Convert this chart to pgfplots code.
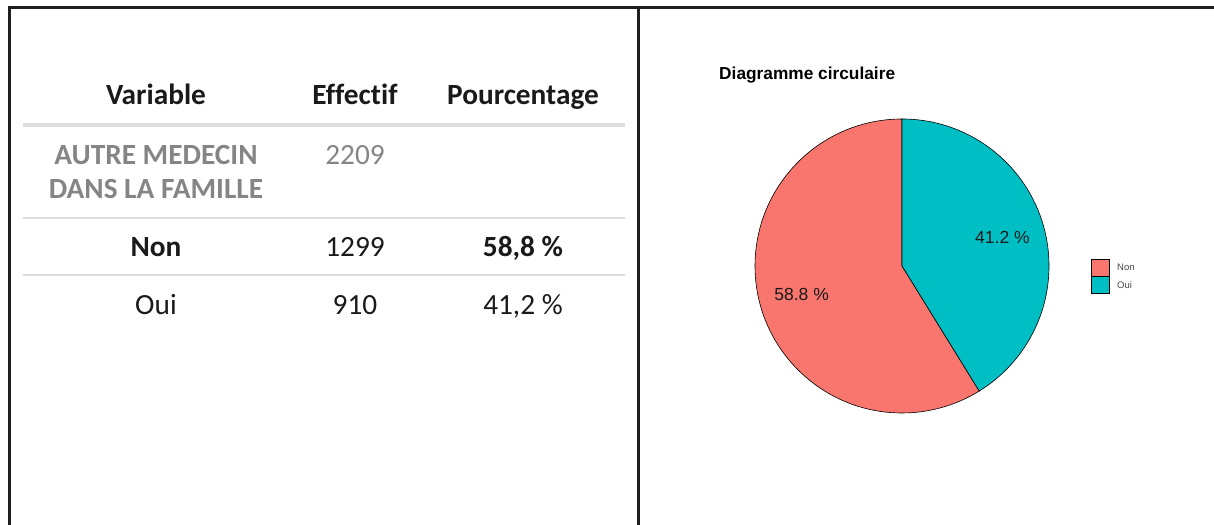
\documentclass[border=0pt]{standalone}
\usepackage{pgfplots}
\pgfplotsset{compat=1.18}
\usepackage{pgfplotstable}
\usepackage{fontspec}
\setmainfont{Carlito}[Ligatures={NoCommon,NoContextual}]
\newfontfamily\arialf{Liberation Sans}
\definecolor{noncol}{HTML}{F8766D}
\definecolor{ouicol}{HTML}{00BFC4}
\definecolor{txtgray}{HTML}{858585}
\definecolor{linegray}{HTML}{DDDDDD}
\definecolor{framecol}{HTML}{1F1F1F}
\definecolor{txt}{HTML}{1A1A1A}

\pgfplotstableread{
label count
Non 1299
Oui 910
}\piedata
\pgfplotstablegetelem{0}{count}\of\piedata\let\nNon\pgfplotsretval
\pgfplotstablegetelem{1}{count}\of\piedata\let\nOui\pgfplotsretval
\pgfmathsetmacro\fOui{\nOui/(\nNon+\nOui)}
\pgfmathsetmacro\aOui{360*\fOui}
\pgfmathsetmacro\eOui{90-\aOui}
\pgfmathsetmacro\eNon{\eOui+360}
\pgfmathsetmacro\mOui{90-\aOui/2}
\pgfmathsetmacro\mNon{90-\aOui-(360-\aOui)/2}
\newcommand\tf{\fontsize{29.3bp}{34bp}\selectfont}
\newcommand\pf{\arialf\fontsize{17.5bp}{20bp}\selectfont}

\begin{document}%
\begin{tikzpicture}[x=1bp,y=1bp]
\path[use as bounding box] (0,0) rectangle (1214,525);
% frame
\draw[framecol, line width=3bp] (9.2,0) -- (9.2,517.8) -- (1214,517.8);
\draw[framecol, line width=3bp] (638.5,0) -- (638.5,517.8);
% table lines
\draw[linegray, line width=4bp] (23,400.3) -- (625,400.3);
\draw[linegray, line width=2bp] (23,307.3) -- (625,307.3);
\draw[linegray, line width=1.3bp] (23,250) -- (625,250);
% header
\begin{scope}[every node/.style={anchor=base, inner sep=0pt, text=txt, font=\tf\bfseries}]
\node at (156,420) {Variable};
\node at (355,420) {Effectif};
\node at (523,420) {Pourcentage};
\end{scope}
\begin{scope}[every node/.style={anchor=base, inner sep=0pt, text=txtgray, font=\tf}]
\node[font=\tf\bfseries] at (156,360) {AUTRE MEDECIN};
\node[font=\tf\bfseries] at (156,326) {DANS LA FAMILLE};
\node at (355,360) {2209};
\end{scope}
\begin{scope}[every node/.style={anchor=base, inner sep=0pt, text=txt, font=\tf}]
\node[font=\tf\bfseries] at (156,268) {Non};
\node at (355,268) {1299};
\node[font=\tf\bfseries] at (523,268) {58,8 \%};
\node at (156,210) {Oui};
\node at (355,210) {910};
\node at (523,210) {41,2 \%};
\end{scope}
% title
\node[anchor=base west, inner sep=0pt, font=\arialf\fontsize{17.3bp}{20bp}\selectfont\bfseries] at (719,445) {Diagramme circulaire};
% pie
\begin{axis}[at={(902bp,259bp)}, anchor=center, scale only axis,
  width=294bp, height=294bp, xmin=-1, xmax=1, ymin=-1, ymax=1,
  hide axis, clip=false]
\fill[noncol, draw=black, line width=0.6bp] (axis cs:0,0) -- (axis cs:0,1) arc[start angle=90, end angle=\eNon, radius=147bp] -- cycle;
\fill[ouicol, draw=black, line width=0.6bp] (axis cs:0,0) -- (axis cs:0,1) arc[start angle=90, end angle=\eOui, radius=147bp] -- cycle;
\node[font=\pf, text=txt] at (axis cs:{0.71*cos(\mOui)},{0.71*sin(\mOui)}) {41.2 \%};
\node[font=\pf, text=txt] at (axis cs:{0.71*cos(\mNon)},{0.71*sin(\mNon)}) {58.8 \%};
\end{axis}
% legend
\draw[black, line width=0.6bp, fill=noncol] (1091,249) rectangle (1109,266);
\draw[black, line width=0.6bp, fill=ouicol] (1091,231.5) rectangle (1109,249);
\node[anchor=west, inner sep=0pt, text=txt!80, font=\arialf\fontsize{9.5bp}{11bp}\selectfont] at (1117,257.5) {Non};
\node[anchor=west, inner sep=0pt, text=txt!80, font=\arialf\fontsize{9.5bp}{11bp}\selectfont] at (1117,240) {Oui};
\end{tikzpicture}%
\end{document}
